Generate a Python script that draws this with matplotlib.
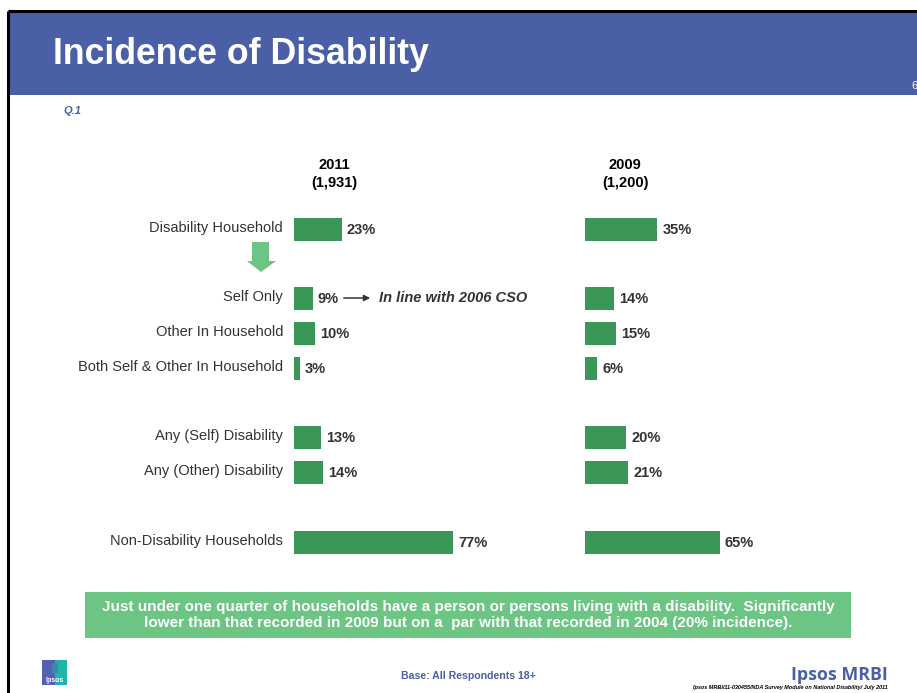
import matplotlib
matplotlib.use("Agg")
import matplotlib.pyplot as plt
from matplotlib import font_manager
from matplotlib.patches import Rectangle, Polygon, FancyArrowPatch
import numpy as np

# ---- data ----
categories = [
    "Disability Household",
    "Self Only",
    "Other In Household",
    "Both Self & Other In Household",
    "Any (Self) Disability",
    "Any (Other) Disability",
    "Non-Disability Households",
]
values_2011 = [23, 9, 10, 3, 13, 14, 77]
values_2009 = [35, 14, 15, 6, 20, 21, 65]
panel_titles = ["2011\n(1,931)", "2009\n(1,200)"]

title = "Incidence of Disability"
question = "Q.1"
note = "In line with 2006 CSO"
summary = ("Just under one quarter of households have a person or persons living with a disability.  Significantly\n"
           "lower than that recorded in 2009 but on a  par with that recorded in 2004 (20% incidence).")
base_text = "Base: All Respondents 18+"
footer_ref = "Ipsos MRBI/11-030455/NDA Survey Module on National Disability/ July 2011"

# ---- layout (pixels) ----
W, H = 917, 693
row_y = [229, 298, 333, 368, 437, 472, 542]
bar_h = 23
px_per_pct = 2.07
panel_left = [294, 585]

BLUE = "#4a5fa5"
BAR = "#3a9758"
LIGHT_GREEN = "#6cc583"
TEXT = "#333333"

available = {f.name for f in font_manager.fontManager.ttflist}
SANS = "Liberation Sans" if "Liberation Sans" in available else "DejaVu Sans"
NARROW = "Liberation Sans Narrow" if "Liberation Sans Narrow" in available else SANS
plt.rcParams["font.family"] = [SANS, "DejaVu Sans"]

fig = plt.figure(figsize=(W / 100, H / 100), dpi=100)
ax = fig.add_axes([0, 0, 1, 1])
ax.set_xlim(0, W)
ax.set_ylim(H, 0)
ax.axis("off")

# slide frame and header band
ax.add_patch(Rectangle((8, 12), W - 8, 83, facecolor=BLUE, edgecolor="none", zorder=1))
ax.plot([8, 8], [11, H], color="black", lw=2.2, zorder=3, solid_capstyle="butt")
ax.plot([8, W], [11, 11], color="black", lw=2.2, zorder=3, solid_capstyle="butt")
ax.text(53, 54, title, color="white", fontsize=25.7, fontweight="bold",
        va="center", ha="left")
ax.text(911, 86, "6", color="white", fontsize=8, va="center", ha="left")
ax.text(63, 111, question, color=BLUE, fontsize=8, fontweight="bold",
        fontstyle="italic", va="center", ha="left")

# category labels
for cat, y in zip(categories, row_y):
    ax.text(283, y - 1, cat, color=TEXT, fontsize=10.5, va="center", ha="right")

# downward arrow between the household row and its breakdown
ax.add_patch(Polygon([(252, 242), (269, 242), (269, 261), (276, 261),
                      (261, 272), (247, 261), (252, 261)],
                     closed=True, facecolor=LIGHT_GREEN, edgecolor="none"))

# bar panels
for left, vals, ttl in zip(panel_left, [values_2011, values_2009], panel_titles):
    pax = fig.add_axes([left / W, 0, 100 * px_per_pct / W, 1])
    pax.set_xlim(0, 100)
    pax.set_ylim(H, 0)
    pax.axis("off")
    pax.patch.set_alpha(0)
    pax.barh(row_y, vals, height=bar_h, color=BAR, edgecolor="none")
    for v, y in zip(vals, row_y):
        pax.text(v + 2.4, y + 1, f"{v}%", color=TEXT, fontsize=10.5,
                 fontweight="bold", va="center", ha="left")
    pax.text(19.5, 174, ttl, color="black", fontsize=10.5, fontweight="bold",
             va="center", ha="center", linespacing=1.45)

# annotation next to "Self Only"
ax.add_patch(FancyArrowPatch((341, 298), (373, 298), arrowstyle="-|>",
                             mutation_scale=9, color=TEXT, lw=1.1))
ax.text(379, 298, note, color=TEXT, fontsize=10.5, fontweight="bold",
        fontstyle="italic", va="center", ha="left")

# summary box
ax.add_patch(Rectangle((85, 592), 766, 46, facecolor=LIGHT_GREEN, edgecolor="none"))
ax.text(468, 615, summary, color="white", fontsize=11, fontweight="bold",
        family=[NARROW, "DejaVu Sans"], va="center", ha="center", linespacing=1.25)

# footer
ax.text(468, 676, base_text, color=BLUE, fontsize=7.6, fontweight="bold",
        family=[NARROW, "DejaVu Sans"], va="center", ha="center")
ax.text(888, 675, "Ipsos MRBI", color=BLUE, fontsize=12.8, fontweight="bold",
        family=["Open Sans", SANS], va="center", ha="right")
ax.text(888, 688, footer_ref, color="black", fontsize=4, fontweight="bold",
        fontstyle="italic", va="center", ha="right")

# small logo
ax.add_patch(Rectangle((42, 660), 13, 25, facecolor="#5560b0", edgecolor="none"))
ax.add_patch(Rectangle((55, 660), 12, 25, facecolor="#1fb5ad", edgecolor="none"))
ax.add_patch(Rectangle((52, 663), 6, 10, facecolor="#3a88b0", edgecolor="none"))
ax.text(54.5, 680, "Ipsos", color="white", fontsize=5, fontweight="bold",
        va="center", ha="center")

fig.savefig("out.png", dpi=100)
